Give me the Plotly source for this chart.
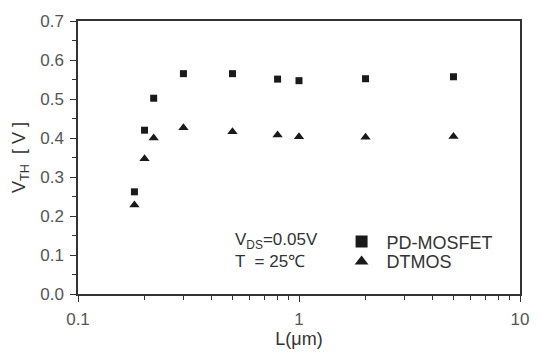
import plotly.graph_objects as go

L = [0.18, 0.2, 0.22, 0.3, 0.5, 0.8, 1.0, 2.0, 5.0]
vth_pd = [0.262, 0.420, 0.502, 0.565, 0.565, 0.551, 0.547, 0.552, 0.557]
vth_dt = [0.228, 0.347, 0.400, 0.426, 0.416, 0.408, 0.403, 0.402, 0.404]

font = "Liberation Sans, Arial, sans-serif"
col = "#333333"

fig = go.Figure()
fig.add_trace(go.Scatter(x=L, y=vth_pd, mode="markers", name="PD-MOSFET", legend="legend",
                         marker=dict(symbol="square", size=7, color="#1a1a1a")))
fig.add_trace(go.Scatter(x=L, y=vth_dt, mode="markers", name="DTMOS", legend="legend2",
                         marker=dict(symbol="triangle-up", size=9, color="#1a1a1a")))

leg_common = dict(xanchor="left", yanchor="top", bgcolor="rgba(0,0,0,0)",
                  font=dict(size=18, color=col), itemsizing="constant", itemwidth=40)

fig.update_layout(
    width=541, height=357,
    margin=dict(l=78, r=21, t=14, b=57),
    paper_bgcolor="white", plot_bgcolor="white",
    font=dict(family=font, size=17, color=col),
    showlegend=True,
    legend=dict(x=0.585, y=0.259, **leg_common),
    legend2=dict(x=0.585, y=0.186, **leg_common),
    xaxis=dict(type="log", range=[-1, 1], tickvals=[0.1, 1, 10], ticktext=["0.1", "1", "10"],
               ticks="outside", ticklen=6, tickcolor=col, showline=True, linecolor=col,
               linewidth=1.5, mirror=True, showgrid=False, zeroline=False, ticklabelstandoff=3,
               minor=dict(dtick="D1", ticks="outside", ticklen=4, tickcolor=col, showgrid=False),
               title=dict(text="L(μm)", font=dict(size=18), standoff=3),
               tickfont=dict(size=17, color="#555555")),
    yaxis=dict(range=[0, 0.7], dtick=0.1, tickformat=".1f",
               ticks="outside", ticklen=6, tickcolor=col, showline=True, linecolor=col,
               linewidth=1.5, mirror=True, showgrid=False, zeroline=False, ticklabelstandoff=3,
               minor=dict(dtick=0.05, ticks="outside", ticklen=4, tickcolor=col, showgrid=False),
               title=dict(text="V<sub>TH</sub>  [ V ]", font=dict(size=18), standoff=10),
               tickfont=dict(size=17, color="#555555")),
)

fig.add_annotation(x=0.35, y=0.24, xref="paper", yref="paper", xanchor="left", yanchor="top",
                   text="V<sub>DS</sub>=0.05V<br>T  = 25℃", showarrow=False, align="left",
                   font=dict(size=17, color=col))

fig.write_html("out.html")
